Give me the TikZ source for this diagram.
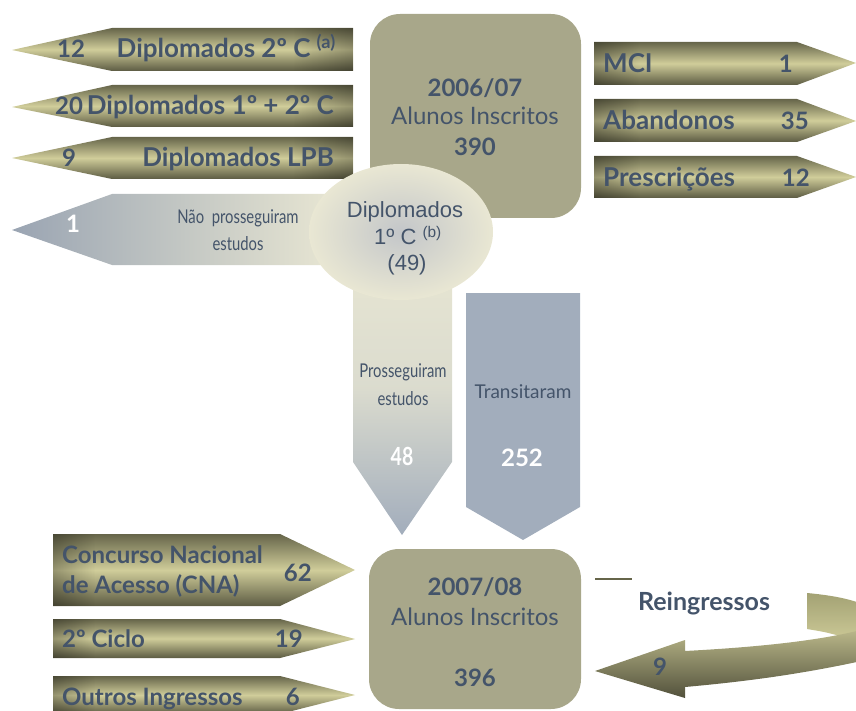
\documentclass[tikz,border=0pt]{standalone}
\usepackage{fontspec}
\setmainfont{Lato}
\newfontfamily\arialf{Liberation Sans}
\newfontfamily\condf[FakeStretch=0.78]{Lato}
\usetikzlibrary{fadings}
\definecolor{txt}{HTML}{44546A}
\definecolor{boxc}{HTML}{A8A78A}
\definecolor{olD}{HTML}{66654A}
\definecolor{olL}{HTML}{D0CD9A}
\definecolor{olM}{HTML}{A3A274}
\definecolor{bluegray}{HTML}{A2ADBC}
\definecolor{cream}{HTML}{E9E7D3}
\definecolor{ellC}{HTML}{C3C6C9}
\tikzfading[name=darkright, left color=transparent!100, right color=transparent!0]
\tikzfading[name=darkleft, left color=transparent!0, right color=transparent!100]
\tikzset{
  olivearrow/.style={shading=axis, top color=olD, bottom color=olD!90!black, middle color=olL},
  bt/.style={text=txt, font=\fontsize{26}{30}\selectfont\bfseries, inner sep=0pt},
  bn/.style={text=txt, font=\fontsize{24}{28}\selectfont\bfseries, inner sep=0pt},
  btm/.style={text=txt, font=\fontsize{24}{28}\selectfont\bfseries, inner sep=0pt},
  rt/.style={text=txt, font=\fontsize{24}{28}\selectfont, inner sep=0pt},
  ct/.style={text=txt, font=\condf\fontsize{19}{22}\selectfont, inner sep=0pt},
  arialtext/.style={text=txt, font=\arialf\fontsize{22}{26}\selectfont, inner sep=0pt},
  wt/.style={text=white, font=\fontsize{24}{28}\selectfont\bfseries, inner sep=0pt},
  box/.style={fill=boxc, rounded corners=30pt},
  shadeR/.style={fill=black, fill opacity=0.28, path fading=darkright},
  shadeL/.style={fill=black, fill opacity=0.28, path fading=darkleft}
}
\begin{document}
\begin{tikzpicture}[x=1pt,y=-1pt]
\useasboundingbox (0,0) rectangle (856,711);
\begin{scope}
\clip (0,0) rectangle (856,711);
% ---------- top-left arrows ----------
\shade[olivearrow] (12,50) -- (112,28) -- (353,28) -- (353,71) -- (112,71) -- cycle;
\shade[olivearrow] (12,107) -- (112,85) -- (353,85) -- (353,127) -- (112,127) -- cycle;
\shade[olivearrow] (12,158) -- (112,137) -- (353,137) -- (353,179) -- (112,179) -- cycle;
\fill[shadeR] (293,28) rectangle (353,71);
\fill[shadeR] (293,85) rectangle (353,127);
\fill[shadeR] (293,137) rectangle (353,179);
\node[bn, anchor=base west] (n12) at (57,58) {12};
\node[bt, anchor=base east] (d2c) at (336,58) {Diplomados 2º C \textsuperscript{(a)}};
\node[bn, anchor=base west] (n20) at (55,115) {20};
\node[bt, anchor=base east] (d12c) at (334,115) {Diplomados 1º + 2º C};
\node[bn, anchor=base west] (n9) at (62,167) {9};
\node[bt, anchor=base east] (dlpb) at (334,167) {Diplomados LPB};
% ---------- box 2006/07 ----------
\fill[box] (370,14) rectangle (581,218);
\node[bn, anchor=base] (y0607) at (475,97) {2006/07};
\node[rt, anchor=base] (ai1) at (475,125) {Alunos Inscritos};
\node[bn, anchor=base] (n390) at (475,156) {390};
% ---------- right arrows ----------
\shade[olivearrow] (594,42) -- (797,42) -- (856,63) -- (797,85) -- (594,85) -- cycle;
\shade[olivearrow] (594,99) -- (797,99) -- (856,121) -- (797,142) -- (594,142) -- cycle;
\shade[olivearrow] (594,156) -- (797,156) -- (856,177) -- (797,198) -- (594,198) -- cycle;
\fill[shadeL] (594,42) rectangle (640,85);
\fill[shadeL] (594,99) rectangle (640,142);
\fill[shadeL] (594,156) rectangle (640,198);
\node[bt, anchor=base west] (mci) at (603,73) {MCI};
\node[bn, anchor=base east] (n1) at (793,73) {1};
\node[bt, anchor=base west] (aband) at (603,130) {Abandonos};
\node[bn, anchor=base east] (n35) at (809,130) {35};
\node[bt, anchor=base west] (presc) at (603,187) {Prescrições};
\node[bn, anchor=base east] (n12b) at (810,187) {12};
% ---------- transitaram ----------
\fill[bluegray] (466,293) -- (580,293) -- (580,507) -- (523,540) -- (466,507) -- cycle;
\node[text=txt, font=\fontsize{19}{22}\selectfont, inner sep=0pt, anchor=base] (trans) at (523,398) {Transitaram};
\node[wt, anchor=base] (n252) at (522,466) {252};
% ---------- nao prosseguiram / prosseguiram ----------
\shade[left color=bluegray!95!black, right color=cream] (12,230) -- (112,194) -- (340,194) -- (340,265) -- (112,265) -- cycle;
\shade[top color=cream, bottom color=bluegray, middle color=cream!80!bluegray] (353,240) -- (452,240) -- (452,462) -- (402,535) -- (353,462) -- cycle;
\shade[inner color=ellC, outer color=cream] (401,232) ellipse [x radius=92, y radius=68];
\node[wt, anchor=base] (n1w) at (73,233) {1};
\node[ct, anchor=base] (naop) at (238,224) {Não\ \ prosseguiram};
\node[ct, anchor=base] (naoe) at (238,251) {estudos};
\node[arialtext, anchor=base] (dip) at (405,218) {Diplomados};
\node[arialtext, anchor=base] (dip1) at (408,245) {1º C \textsuperscript{(b)}};
\node[arialtext, anchor=base] (dip49) at (407,270) {(49)};
\node[ct, anchor=base] (pros) at (403,377) {Prosseguiram};
\node[ct, anchor=base] (prose) at (403,405) {estudos};
\node[text=white, font=\condf\bfseries\fontsize{25}{28}\selectfont, inner sep=0pt, anchor=base] (n48) at (402,465) {48};
% ---------- box 2007/08 ----------
\fill[box] (369,549) rectangle (581,709);
\node[bn, anchor=base] (y0708) at (475,595) {2007/08};
\node[rt, anchor=base] (ai2) at (475,625) {Alunos Inscritos};
\node[bn, anchor=base] (n396) at (475,686) {396};
% ---------- bottom-left arrows ----------
\shade[olivearrow] (53,534) -- (280,534) -- (355,570) -- (280,606) -- (53,606) -- cycle;
\shade[olivearrow] (53,619) -- (280,619) -- (355,639) -- (280,658) -- (53,658) -- cycle;
\shade[olivearrow] (53,676) -- (280,676) -- (355,695) -- (280,714) -- (53,714) -- cycle;
\fill[shadeL] (53,534) rectangle (95,606);
\fill[shadeL] (53,619) rectangle (95,658);
\fill[shadeL] (53,676) rectangle (95,714);
\node[btm, anchor=base west] (cna1) at (62,563) {Concurso Nacional};
\node[btm, anchor=base west] (cna2) at (62,593) {de Acesso (CNA)};
\node[bn, anchor=base east] (n62) at (312,581) {62};
\node[btm, anchor=base west] (ciclo) at (62,647) {2º Ciclo};
\node[bn, anchor=base east] (n19) at (303,647) {19};
\node[btm, anchor=base west] (outros) at (62,705) {Outros Ingressos};
\node[bn, anchor=base east] (n6) at (300,705) {6};
% ---------- reingressos ----------
\shade[shading=axis, top color=olM, bottom color=olL]
  (807,593) .. controls (840,596) and (865,602) .. (875,612)
  -- (875,645) -- (840,636) .. controls (825,632) .. (807,629) -- cycle;
\shade[shading=axis, top color=olL!85!olD, middle color=olL, bottom color=olD!80!black]
  (595,671) -- (685,640) -- (685,651)
  .. controls (760,647) and (830,640) .. (875,626)
  -- (875,658)
  .. controls (800,675) and (740,682) .. (685,687)
  -- (685,698) -- cycle;
\draw[olD, line width=1.2pt] (595,579) -- (632,579);
\node[text=txt, font=\fontsize{25}{28}\selectfont\bfseries, inner sep=0pt, anchor=base] (reing) at (704,610) {Reingressos};
\node[bn, anchor=base] (n9r) at (660,675) {9};
\end{scope}
\end{tikzpicture}
\end{document}
